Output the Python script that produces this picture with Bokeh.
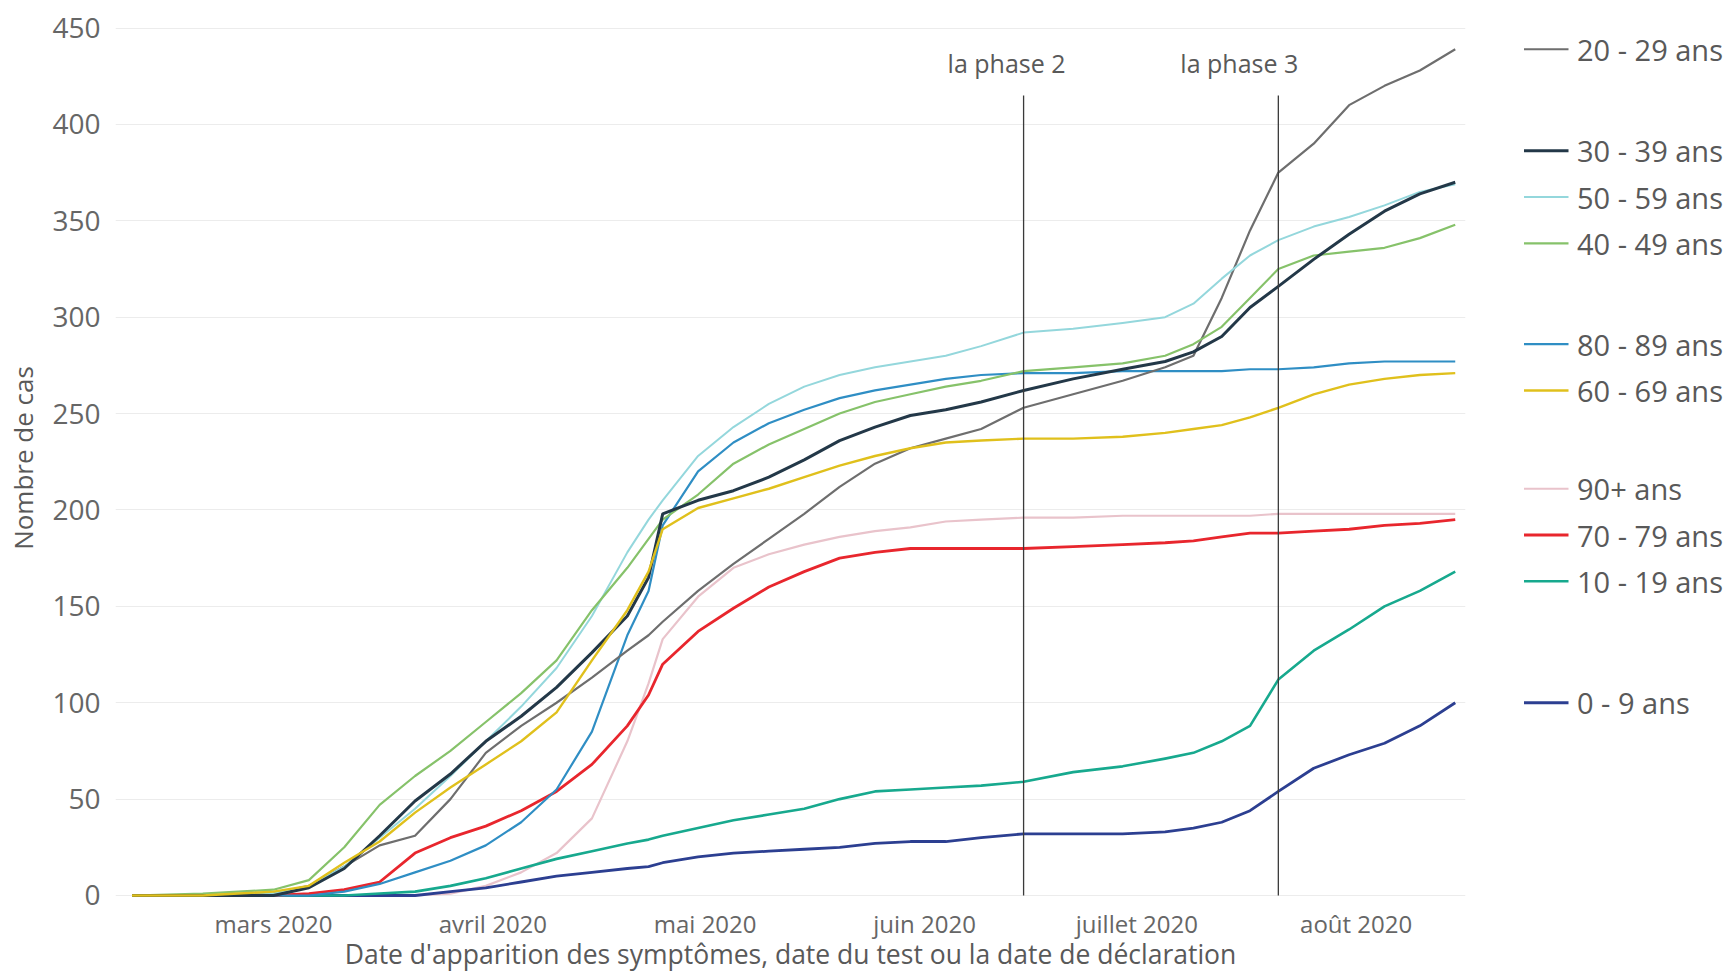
import numpy as np
import pandas as pd
from bokeh.plotting import figure
from bokeh.layouts import row
from bokeh.models import Range1d, FixedTicker, ColumnDataSource, Label
from bokeh.embed import file_html
from bokeh.resources import INLINE
from bokeh.core.properties import value

# ---------------- data ----------------
dates = ["2020-02-10", "2020-02-20", "2020-02-25", "2020-03-01", "2020-03-06", "2020-03-11",
         "2020-03-16", "2020-03-21", "2020-03-26", "2020-03-31", "2020-04-05", "2020-04-10",
         "2020-04-15", "2020-04-20", "2020-04-23", "2020-04-25", "2020-04-30", "2020-05-05",
         "2020-05-10", "2020-05-15", "2020-05-20", "2020-05-25", "2020-05-30", "2020-06-04",
         "2020-06-09", "2020-06-15", "2020-06-22", "2020-06-29", "2020-07-05", "2020-07-09",
         "2020-07-13", "2020-07-17", "2020-07-21", "2020-07-26", "2020-07-31", "2020-08-05",
         "2020-08-10", "2020-08-15"]

cas_20_29 = [0, 0, 0, 1, 5, 15, 26, 31, 50, 74, 88, 100, 113, 127, 135, 142, 158, 172, 185, 198,
             212, 224, 232, 237, 242, 253, 260, 267, 274, 280, 310, 345, 375, 390, 410, 420, 428, 439]
cas_30_39 = [0, 0, 0, 0, 4, 14, 31, 49, 63, 80, 93, 108, 126, 145, 165, 198, 205, 210, 217, 226,
             236, 243, 249, 252, 256, 262, 268, 273, 277, 282, 290, 305, 316, 330, 343, 355, 364, 370]
cas_50_59 = [0, 0, 0, 1, 5, 15, 30, 45, 62, 80, 98, 118, 145, 178, 195, 205, 228, 243, 255, 264,
             270, 274, 277, 280, 285, 292, 294, 297, 300, 307, 320, 332, 340, 347, 352, 358, 365, 369]
cas_40_49 = [0, 1, 2, 3, 8, 25, 47, 62, 75, 90, 105, 122, 148, 170, 185, 195, 208, 224, 234, 242,
             250, 256, 260, 264, 267, 272, 274, 276, 280, 286, 295, 310, 325, 332, 334, 336, 341, 348]
cas_80_89 = [0, 0, 0, 0, 0, 2, 6, 12, 18, 26, 38, 55, 85, 135, 158, 192, 220, 235, 245, 252,
             258, 262, 265, 268, 270, 271, 271, 272, 272, 272, 272, 273, 273, 274, 276, 277, 277, 277]
cas_60_69 = [0, 0, 1, 2, 5, 17, 28, 43, 56, 68, 80, 95, 122, 148, 168, 190, 201, 206, 211, 217,
             223, 228, 232, 235, 236, 237, 237, 238, 240, 242, 244, 248, 253, 260, 265, 268, 270, 271]
cas_90_plus = [0, 0, 0, 0, 0, 0, 0, 0, 1, 5, 12, 22, 40, 80, 110, 133, 155, 170, 177, 182,
               186, 189, 191, 194, 195, 196, 196, 197, 197, 197, 197, 197, 198, 198, 198, 198, 198, 198]
cas_70_79 = [0, 0, 0, 0, 1, 3, 7, 22, 30, 36, 44, 54, 68, 88, 104, 120, 137, 149, 160, 168,
             175, 178, 180, 180, 180, 180, 181, 182, 183, 184, 186, 188, 188, 189, 190, 192, 193, 195]
cas_10_19 = [0, 0, 0, 0, 0, 0, 1, 2, 5, 9, 14, 19, 23, 27, 29, 31, 35, 39, 42, 45,
             50, 54, 55, 56, 57, 59, 64, 67, 71, 74, 80, 88, 112, 127, 138, 150, 158, 168]
cas_0_9 = [0, 0, 0, 0, 0, 0, 0, 0, 2, 4, 7, 10, 12, 14, 15, 17, 20, 22, 23, 24,
           25, 27, 28, 28, 30, 32, 32, 32, 33, 35, 38, 44, 54, 66, 73, 79, 88, 100]

groupes = ["20 - 29 ans", "30 - 39 ans", "50 - 59 ans", "40 - 49 ans", "80 - 89 ans",
           "60 - 69 ans", "90+ ans", "70 - 79 ans", "10 - 19 ans", "0 - 9 ans"]
series = [cas_20_29, cas_30_39, cas_50_59, cas_40_49, cas_80_89,
          cas_60_69, cas_90_plus, cas_70_79, cas_10_19, cas_0_9]

mois = ["mars 2020", "avril 2020", "mai 2020", "juin 2020", "juillet 2020", "août 2020"]
mois_debut = ["2020-03-01", "2020-04-01", "2020-05-01", "2020-06-01", "2020-07-01", "2020-08-01"]

phases = ["la phase 2", "la phase 3"]
phase_dates = ["2020-06-15", "2020-07-21"]

y_ticks = [0, 50, 100, 150, 200, 250, 300, 350, 400, 450]

titre_x = "Date d'apparition des symptômes, date du test ou la date de déclaration"
titre_y = "Nombre de cas"

# ---------------- styles ----------------
couleurs = {"20 - 29 ans": "#6e6e6e", "30 - 39 ans": "#233848", "50 - 59 ans": "#94d7dc",
            "40 - 49 ans": "#86c26a", "80 - 89 ans": "#2f8ec4", "60 - 69 ans": "#e0c01c",
            "90+ ans": "#e9c3cb", "70 - 79 ans": "#e8262d", "10 - 19 ans": "#17a98e",
            "0 - 9 ans": "#2c3f91"}
epaisseurs = {"20 - 29 ans": 2.2, "30 - 39 ans": 3.0, "50 - 59 ans": 2.0, "40 - 49 ans": 2.2,
              "80 - 89 ans": 2.2, "60 - 69 ans": 2.4, "90+ ans": 2.2, "70 - 79 ans": 2.8,
              "10 - 19 ans": 2.6, "0 - 9 ans": 2.8}
ordre_dessin = ["90+ ans", "0 - 9 ans", "10 - 19 ans", "70 - 79 ans", "80 - 89 ans",
                "20 - 29 ans", "50 - 59 ans", "40 - 49 ans", "30 - 39 ans", "60 - 69 ans"]

FONT = "Open Sans"
TXT = "#595959"
origine = pd.Timestamp("2020-03-01")


def jours(liste):
    return [(pd.Timestamp(d) - origine).days for d in liste]


x = jours(dates)
mois_x = jours(mois_debut)
phase_x = jours(phase_dates)

# ---------------- geometry ----------------
H = 976
W_MAIN = 1470
AXIS_H = 76                        # expected height of the x axis (tick labels + title)
FRAME_BOTTOM = H - AXIS_H
PX_UNIT = 1.9276
X0, X1 = -22.33, 168.45
Y1 = 456.5
Y0 = -(FRAME_BOTTOM - 895) / PX_UNIT

p = figure(width=W_MAIN, height=H, x_range=Range1d(X0, X1), y_range=Range1d(Y0, Y1),
           output_backend="svg", toolbar_location=None,
           min_border_left=115, min_border_right=5, min_border_top=15, min_border_bottom=AXIS_H)
p.outline_line_color = None
p.background_fill_color = "white"
p.border_fill_color = "white"

p.xaxis.ticker = FixedTicker(ticks=mois_x)
p.xaxis.major_label_overrides = {t: lab for t, lab in zip(mois_x, mois)}
p.yaxis.ticker = FixedTicker(ticks=y_ticks)
p.xgrid.visible = False
p.ygrid.grid_line_color = "#ececec"
p.ygrid.grid_line_width = 1

for ax in (p.xaxis, p.yaxis):
    ax.axis_line_color = None
    ax.major_tick_line_color = None
    ax.minor_tick_line_color = None
    ax.major_label_text_color = "#666666"
    ax.major_label_text_font = FONT
    ax.axis_label_text_font = FONT
    ax.axis_label_text_font_style = "normal"
    ax.axis_label_text_color = TXT

p.xaxis.major_label_text_font_size = "24px"
p.xaxis.major_label_standoff = 0
p.xaxis.axis_label = titre_x
p.xaxis.axis_label_text_font_size = "26.5px"
p.xaxis.axis_label_standoff = -7

p.yaxis.major_label_text_font_size = "28px"
p.yaxis.major_label_standoff = 9
p.yaxis.axis_label = titre_y
p.yaxis.axis_label_text_font_size = "26px"
p.yaxis.axis_label_standoff = 8

data = dict(zip(groupes, series))
for g in ordre_dessin:
    p.line(x, data[g], line_color=couleurs[g], line_width=epaisseurs[g], line_join="round")

p.segment(x0=phase_x, x1=phase_x, y0=[0, 0], y1=[415, 415], line_color="#3a3a3a", line_width=1.3)
for px, txt, off in zip(phase_x, phases, [-17, -39]):
    p.add_layout(Label(x=px, y=432, text=txt, x_offset=off, text_align="center",
                       text_baseline="middle", text_font=FONT, text_font_size="25px",
                       text_color=TXT))

# ---------------- end-of-line legend ----------------
def positions_etiquettes(vals, gap):
    ordre = sorted(range(len(vals)), key=lambda i: -vals[i])
    grp = [[i] for i in ordre]

    def bornes(g):
        c = np.mean([vals[i] for i in g])
        n = len(g)
        return c + gap * (n - 1) / 2, c - gap * (n - 1) / 2

    change = True
    while change:
        change = False
        for k in range(len(grp) - 1):
            if bornes(grp[k])[1] - bornes(grp[k + 1])[0] < gap:
                grp[k] = grp[k] + grp[k + 1]
                del grp[k + 1]
                change = True
                break
    pos = [0.0] * len(vals)
    for g in grp:
        c = np.mean([vals[i] for i in g])
        n = len(g)
        for k, i in enumerate(g):
            pos[i] = c + gap * ((n - 1) / 2 - k)
    return pos


finals = [s[-1] for s in series]
ly = positions_etiquettes(finals, 24)

W_LEG = 1731 - W_MAIN
p2 = figure(width=W_LEG, height=H, x_range=Range1d(0, W_LEG), y_range=p.y_range,
            x_axis_type=None, y_axis_type=None, output_backend="svg", toolbar_location=None,
            min_border_left=0, min_border_right=0, min_border_top=15, min_border_bottom=AXIS_H)
p2.outline_line_color = None
p2.background_fill_color = "white"
p2.border_fill_color = "white"

n = len(groupes)
src = ColumnDataSource(dict(y=ly, label=groupes,
                            color=[couleurs[g] for g in groupes],
                            w=[epaisseurs[g] for g in groupes],
                            x0=[53.5] * n, x1=[98] * n, xt=[106.5] * n))
p2.segment(x0="x0", x1="x1", y0="y", y1="y", line_color="color", line_width="w", source=src)
p2.text(x="xt", y="y", text="label", source=src, text_font=value(FONT),
        text_font_size=value("29px"), text_color=TXT, text_baseline="middle",
        text_align="left")

layout = row(p, p2)
open("out.html", "w").write(file_html(layout, INLINE))
